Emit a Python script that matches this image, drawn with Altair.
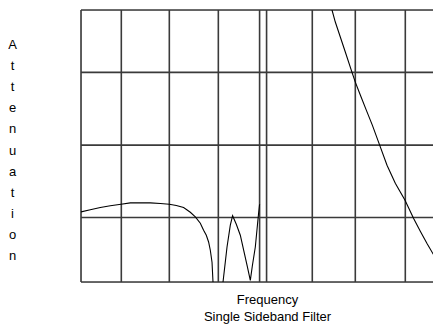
import altair as alt
import pandas as pd

# Passband response (frequency units, attenuation units)
pass_f = [0.000, 0.206, 0.429, 0.651, 0.888, 1.095, 1.317, 1.539, 1.761, 1.961,
          2.116, 2.278, 2.427, 2.538, 2.649, 2.722, 2.782, 2.833, 2.871, 2.909,
          2.931, 3.026, 3.153, 3.242, 3.315, 3.366, 3.448, 3.537, 3.626, 3.692,
          3.759, 3.803, 3.870, 3.921, 3.943, 3.965]
pass_a = [1.031, 1.063, 1.095, 1.122, 1.144, 1.163, 1.166, 1.163, 1.154, 1.144,
          1.125, 1.095, 1.026, 0.957, 0.864, 0.761, 0.688, 0.589, 0.467, 0.290,
          -0.004, -0.711, 0.000, 0.515, 0.835, 0.975, 0.849, 0.688, 0.423, 0.231,
          0.025, 0.231, 0.515, 0.864, 1.011, 1.144]

# Stopband skirt
stop_f = [5.535, 5.573, 5.646, 5.757, 5.868, 6.017, 6.090, 6.201, 6.334, 6.468,
          6.645, 6.794, 6.978, 7.194, 7.385, 7.533, 7.682, 7.822, 7.977, 8.110]
stop_a = [4.088, 4.000, 3.823, 3.603, 3.382, 3.083, 2.940, 2.749, 2.528, 2.307,
          1.988, 1.718, 1.453, 1.203, 0.933, 0.746, 0.565, 0.408, 0.246, 0.098]

# Grid lines
grid_x = [0.0, 0.895, 1.961, 3.049, 3.965, 4.120, 5.135, 6.090, 7.200]
grid_y = [0.0, 0.948, 2.013, 3.083, 4.0]

x_title = ["Frequency", "Single Sideband Filter"]
y_title = list("Attenuation")

rows = []
for i, (f, a) in enumerate(zip(pass_f, pass_a)):
    rows.append({"seg": "pass", "i": i, "f": f, "a": a})
for i, (f, a) in enumerate(zip(stop_f, stop_a)):
    rows.append({"seg": "stop", "i": i, "f": f, "a": a})
curve = pd.DataFrame(rows)

xs = alt.Scale(domain=[0, 7.815], nice=False, zero=False)
ys = alt.Scale(domain=[0, 4], nice=False, zero=False)

FONT = "Liberation Sans"

x_axis = alt.Axis(labels=False, ticks=False, domain=False, grid=False,
                  title=x_title, titleFont=FONT, titleFontSize=13,
                  titleFontWeight="normal", titleColor="#000",
                  titleLineHeight=17, titleAlign="center", titleBaseline="top",
                  titleX=186, titleY=11)
y_axis = alt.Axis(labels=False, ticks=False, domain=False, grid=False,
                  title=y_title, titleFont=FONT, titleFontSize=13,
                  titleFontWeight="normal", titleColor="#000",
                  titleLineHeight=21.2, titleAngle=0, titleAlign="center",
                  titleBaseline="top", titleX=-69, titleY=28)

vgrid = alt.Chart(pd.DataFrame({"gx": grid_x})).mark_rule(
    color="#3a3a3a", strokeWidth=1.6
).encode(x=alt.X("gx:Q", scale=xs, axis=x_axis))

hgrid = alt.Chart(pd.DataFrame({"gy": grid_y})).mark_rule(
    color="#3a3a3a", strokeWidth=1.6
).encode(y=alt.Y("gy:Q", scale=ys, axis=y_axis))

line = alt.Chart(curve).mark_line(color="#000", strokeWidth=1.1, clip=True).encode(
    x=alt.X("f:Q", scale=xs),
    y=alt.Y("a:Q", scale=ys),
    detail="seg:N",
    order="i:Q",
)

chart = alt.layer(vgrid, hgrid, line).properties(
    width=352, height=272,
    autosize=alt.AutoSizeParams(type="none"),
    padding={"left": 73, "top": 2, "right": 0, "bottom": 43},
).configure_view(strokeWidth=0).configure(background="white")

chart.save("out.html", embed_options={"renderer": "svg", "actions": False})
